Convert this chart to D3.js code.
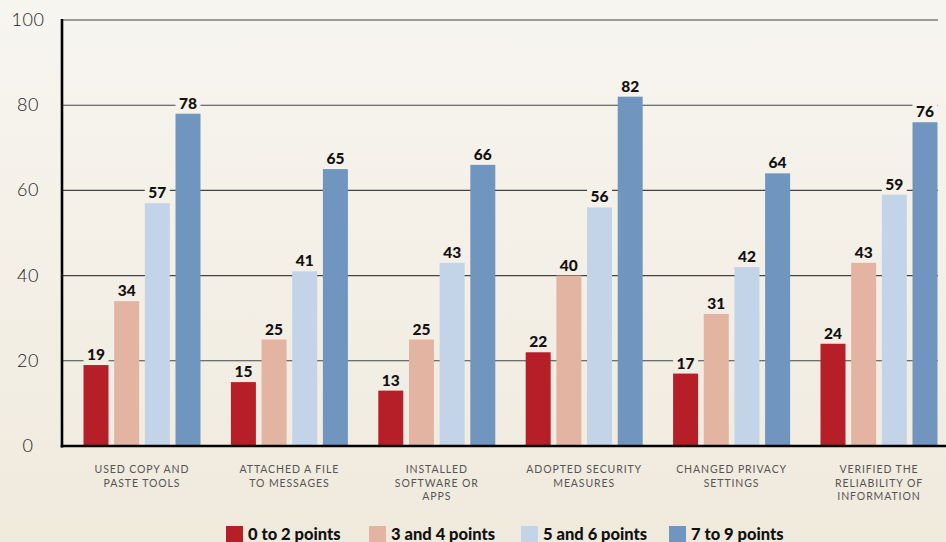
<!DOCTYPE html>
<html>
<head>
  <meta charset="utf-8">
  <script src="https://d3js.org/d3.v7.min.js"></script>
  <style>
  body{
    margin:0;
    background:#f3eee4;
    width:946px;
    height:542px;
    overflow:hidden;
  }
  svg{ display:block; }
  .ylab{ font-family:Lato, sans-serif; font-weight:300; font-size:18px; fill:#222; letter-spacing:0.5px; }
  .xlab{ font-family:Lato, sans-serif; font-weight:400; font-size:10.5px; fill:#555; letter-spacing:0.9px; }
  .val{ font-family:Lato, sans-serif; font-weight:900; font-size:15.5px; fill:#111; }
  .leg{ font-family:Lato, sans-serif; font-weight:900; font-size:16.5px; fill:#111; }
  </style>
</head>
<body>
  <svg width="946" height="542"></svg>
<script>
var categories = [
  ["USED COPY AND", "PASTE TOOLS"],
  ["ATTACHED A FILE", "TO MESSAGES"],
  ["INSTALLED", "SOFTWARE OR", "APPS"],
  ["ADOPTED SECURITY", "MEASURES"],
  ["CHANGED PRIVACY", "SETTINGS"],
  ["VERIFIED THE", "RELIABILITY OF", "INFORMATION"]
];
var seriesNames = ["0 to 2 points", "3 and 4 points", "5 and 6 points", "7 to 9 points"];
var pts0to2 = [19, 15, 13, 22, 17, 24];
var pts3to4 = [34, 25, 25, 40, 31, 43];
var pts5to6 = [57, 41, 43, 56, 42, 59];
var pts7to9 = [78, 65, 66, 82, 64, 76];
var yTicks = [0, 20, 40, 60, 80, 100];
var colors = ["#b61f28", "#e4b4a3", "#c3d3e8", "#7096c0"];

var allSeries = [pts0to2, pts3to4, pts5to6, pts7to9];

var svg = d3.select("svg");
var plotLeft = 62, plotRight = 938, plotTop = 20, plotBottom = 446;

// background gradient (also used behind the value labels)
var grad = svg.append("defs").append("linearGradient")
  .attr("id", "bgGrad")
  .attr("gradientUnits", "userSpaceOnUse")
  .attr("x1", 0).attr("y1", 0).attr("x2", 0).attr("y2", 542);
grad.append("stop").attr("offset", "0%").attr("stop-color", "#f7f5f0");
grad.append("stop").attr("offset", "100%").attr("stop-color", "#f0eadd");
svg.append("rect").attr("width", 946).attr("height", 542).attr("fill", "url(#bgGrad)");

var catIdx = categories.map(function(d, i){ return i; });
var x0 = d3.scaleBand().domain(catIdx).range([68.3, 952.7]).paddingInner(0.2062).paddingOuter(0.1031);
var x1 = d3.scaleBand().domain(seriesNames).range([0, x0.bandwidth()]).paddingInner(0.185);
var y = d3.scaleLinear().domain([0, 100]).range([plotBottom, plotTop]);

// gridlines
svg.append("g")
  .selectAll("line")
  .data(yTicks.filter(function(t){ return t > 0; }))
  .enter().append("line")
  .attr("x1", plotLeft).attr("x2", plotRight)
  .attr("y1", function(d){ return y(d); })
  .attr("y2", function(d){ return y(d); })
  .attr("stroke", "#444")
  .attr("stroke-width", 1.1);

// y labels
svg.append("g")
  .selectAll("text")
  .data(yTicks)
  .enter().append("text")
  .attr("class", "ylab")
  .attr("x", 28)
  .attr("y", function(d){ return y(d) + 6; })
  .attr("text-anchor", "middle")
  .text(function(d){ return d; });

var groups = svg.append("g")
  .selectAll("g")
  .data(catIdx)
  .enter().append("g")
  .attr("transform", function(d){ return "translate(" + x0(d) + ",0)"; });

var barData = function(i){
  return seriesNames.map(function(s, k){ return {s:s, k:k, v:allSeries[k][i]}; });
};

groups.selectAll("rect.bar")
  .data(barData)
  .enter().append("rect")
  .attr("class", "bar")
  .attr("x", function(d){ return x1(d.s); })
  .attr("y", function(d){ return y(d.v); })
  .attr("width", x1.bandwidth())
  .attr("height", function(d){ return plotBottom - y(d.v); })
  .attr("fill", function(d){ return colors[d.k]; });

// label backgrounds to break the gridlines
groups.selectAll("rect.lbg")
  .data(barData)
  .enter().append("rect")
  .attr("class", "lbg")
  .attr("x", function(d){ return x1(d.s); })
  .attr("y", function(d){ return y(d.v) - 20; })
  .attr("width", x1.bandwidth())
  .attr("height", 17)
  .attr("fill", "url(#bgGrad)");

groups.selectAll("text.val")
  .data(barData)
  .enter().append("text")
  .attr("class", "val")
  .attr("x", function(d){ return x1(d.s) + x1.bandwidth() / 2; })
  .attr("y", function(d){ return y(d.v) - 5; })
  .attr("text-anchor", "middle")
  .text(function(d){ return d.v; });

// x labels
groups.append("text")
  .attr("class", "xlab")
  .attr("text-anchor", "middle")
  .selectAll("tspan")
  .data(function(i){ return categories[i]; })
  .enter().append("tspan")
  .attr("x", x0.bandwidth() / 2)
  .attr("y", function(d, j){ return 473 + j * 13.5; })
  .text(function(d){ return d; });

// axes
svg.append("line").attr("x1", plotLeft).attr("x2", plotLeft).attr("y1", plotTop - 1).attr("y2", plotBottom + 1.5)
  .attr("stroke", "#000").attr("stroke-width", 2.6);
svg.append("line").attr("x1", plotLeft - 1.3).attr("x2", 946).attr("y1", plotBottom).attr("y2", plotBottom)
  .attr("stroke", "#000").attr("stroke-width", 2.6);

// legend
var legendX = [226, 369, 521, 669];
var legend = svg.append("g");
seriesNames.forEach(function(s, k){
  legend.append("rect").attr("x", legendX[k]).attr("y", 526).attr("width", 17).attr("height", 17).attr("fill", colors[k]);
  legend.append("text").attr("class", "leg").attr("x", legendX[k] + 22).attr("y", 540).text(s);
});
</script>
</body>
</html>
